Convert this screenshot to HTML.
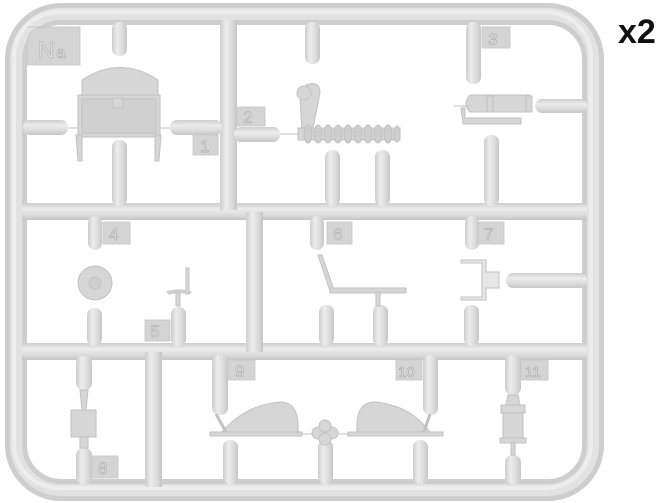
<!DOCTYPE html>
<html><head><meta charset="utf-8"><style>
html,body{margin:0;padding:0;background:#fff;width:672px;height:503px;overflow:hidden}
svg{display:block}
</style></head><body>
<svg width="672" height="503" viewBox="0 0 672 503" xmlns="http://www.w3.org/2000/svg">
<defs>
<linearGradient id="gv" x1="0" x2="1" y1="0" y2="0">
<stop offset="0" stop-color="#cdcdcd"/><stop offset="0.35" stop-color="#ececec"/><stop offset="0.7" stop-color="#dcdcdc"/><stop offset="1" stop-color="#c6c6c6"/></linearGradient>
<linearGradient id="gh" x1="0" x2="0" y1="0" y2="1">
<stop offset="0" stop-color="#cdcdcd"/><stop offset="0.35" stop-color="#ececec"/><stop offset="0.7" stop-color="#dcdcdc"/><stop offset="1" stop-color="#c6c6c6"/></linearGradient>
</defs>
<g fill="none">
<rect x="16" y="14" width="577" height="476" rx="45" ry="45" stroke="#cecece" stroke-width="22"/>
<rect x="16" y="14" width="577" height="476" rx="45" ry="45" stroke="#e2e2e2" stroke-width="12"/>
<rect x="14" y="12" width="577" height="476" rx="45" ry="45" stroke="#ededed" stroke-width="4"/>
</g>
<!-- internal bars -->
<rect x="22" y="203" width="565" height="17" fill="url(#gh)"/>
<rect x="22" y="343" width="565" height="17" fill="url(#gh)"/>
<rect x="220" y="20" width="17" height="190" fill="url(#gv)"/>
<rect x="246" y="212" width="17" height="140" fill="url(#gv)"/>
<rect x="145" y="352" width="17" height="135" fill="url(#gv)"/>

<!-- labels -->
<g fill="#d4d4d4" stroke="#c4c4c4" stroke-width="0.8">
<path d="M27 27 H80 V65 H27 V45 Q27 27 45 27Z"/>
<rect x="193" y="135" width="25" height="20"/>
<rect x="237" y="107" width="28" height="19"/>
<rect x="482" y="27" width="28" height="21"/>
<rect x="103" y="222" width="27" height="22"/>
<rect x="145" y="320" width="25" height="21"/>
<rect x="327" y="222" width="25" height="22"/>
<rect x="477" y="222" width="27" height="22"/>
<rect x="92" y="456" width="26" height="22"/>
<rect x="228" y="360" width="27" height="20"/>
<rect x="396" y="360" width="26" height="20"/>
<rect x="520" y="360" width="28" height="20"/>
</g>
<g font-family="Liberation Sans, sans-serif" fill="#e8e8e8" stroke="#b0b0b0" stroke-width="0.7" font-size="17">
<text x="38" y="58" font-size="23">N</text><text x="56" y="58" font-size="17">a</text>
<text x="200" y="152">1</text>
<text x="243" y="123">2</text>
<text x="488" y="45">3</text>
<text x="109" y="240">4</text>
<text x="150" y="337">5</text>
<text x="333" y="240">6</text>
<text x="484" y="240">7</text>
<text x="98" y="474">8</text>
<text x="235" y="377">9</text>
<text x="398" y="377" font-size="15">10</text>
<text x="525" y="377" font-size="15">11</text>
</g>

<!-- pills / gates -->
<g>
<rect x="112" y="22" width="15" height="34" rx="7" fill="url(#gv)"/>
<rect x="112" y="140" width="15" height="66" rx="7" fill="url(#gv)"/>
<rect x="23" y="120" width="45" height="15" rx="7" fill="url(#gh)"/>
<rect x="170" y="120" width="52" height="15" rx="7" fill="url(#gh)"/>
<rect x="234" y="127" width="46" height="15" rx="7" fill="url(#gh)"/>
<rect x="305" y="22" width="15" height="42" rx="7" fill="url(#gv)"/>
<rect x="325" y="150" width="15" height="56" rx="7" fill="url(#gv)"/>
<rect x="375" y="150" width="15" height="56" rx="7" fill="url(#gv)"/>
<rect x="466" y="22" width="15" height="62" rx="7" fill="url(#gv)"/>
<rect x="484" y="135" width="15" height="71" rx="7" fill="url(#gv)"/>
<rect x="535" y="99" width="52" height="14" rx="7" fill="url(#gh)"/>
<rect x="88" y="216" width="14" height="34" rx="7" fill="url(#gv)"/>
<rect x="87" y="308" width="15" height="38" rx="7" fill="url(#gv)"/>
<rect x="171" y="307" width="15" height="39" rx="7" fill="url(#gv)"/>
<rect x="310" y="216" width="14" height="34" rx="7" fill="url(#gv)"/>
<rect x="319" y="305" width="15" height="41" rx="7" fill="url(#gv)"/>
<rect x="373" y="305" width="15" height="41" rx="7" fill="url(#gv)"/>
<rect x="465" y="216" width="14" height="34" rx="7" fill="url(#gv)"/>
<rect x="464" y="305" width="15" height="41" rx="7" fill="url(#gv)"/>
<rect x="506" y="273" width="81" height="15" rx="7" fill="url(#gh)"/>
<rect x="76" y="356" width="16" height="34" rx="7" fill="url(#gv)"/>
<rect x="76" y="448" width="16" height="36" rx="7" fill="url(#gv)"/>
<rect x="212" y="355" width="16" height="60" rx="7" fill="url(#gv)"/>
<rect x="223" y="440" width="15" height="44" rx="7" fill="url(#gv)"/>
<rect x="318" y="440" width="15" height="44" rx="7" fill="url(#gv)"/>
<rect x="413" y="440" width="15" height="44" rx="7" fill="url(#gv)"/>
<rect x="423" y="355" width="15" height="60" rx="7" fill="url(#gv)"/>
<rect x="505" y="355" width="16" height="40" rx="7" fill="url(#gv)"/>
<rect x="505" y="455" width="16" height="29" rx="7" fill="url(#gv)"/>
</g>

<!-- parts -->
<g fill="#d6d6d6" stroke="#c2c2c2" stroke-width="1">
<!-- part 1 -->
<path d="M82 95 V80 Q120 55 158 80 V95Z"/>
<rect x="78" y="95" width="82" height="42"/>
<rect x="82" y="99" width="74" height="34" fill="#d0d0d0"/>
<rect x="113" y="98" width="10" height="10"/>
<path d="M76 135 h6 v26 h-4z M155 135 h6 l-2 26 h-4z"/>
<line x1="68" y1="128" x2="78" y2="128"/><line x1="160" y1="128" x2="170" y2="128"/>
<!-- part 2 -->
<path d="M300 95 l6 -10 q14 -5 14 8 l-8 40 h-10z"/>
<circle cx="304" cy="93" r="7"/>
<line x1="280" y1="134" x2="300" y2="134"/>
<path d="M298 128 H400 V140 H298Z"/>
<g fill="#cecece">
<ellipse cx="308" cy="134" rx="4" ry="9"/><ellipse cx="318" cy="134" rx="4" ry="9"/><ellipse cx="328" cy="134" rx="4" ry="9"/><ellipse cx="338" cy="134" rx="4" ry="9"/><ellipse cx="348" cy="134" rx="4" ry="9"/><ellipse cx="358" cy="134" rx="4" ry="9"/><ellipse cx="368" cy="134" rx="4" ry="9"/><ellipse cx="378" cy="134" rx="4" ry="9"/><ellipse cx="388" cy="134" rx="4" ry="9"/><ellipse cx="397" cy="134" rx="3" ry="8"/>
</g>
<!-- part 3 -->
<path d="M470 95 h60 v17 h-60 q-8 -8 0 -17z"/>
<rect x="487" y="96" width="6" height="16"/><rect x="526" y="96" width="6" height="16"/>
<path d="M461 108 h4 v10 h56 v6 h-58z"/>
<line x1="454" y1="106" x2="468" y2="106"/>
</g>
<g fill="#d6d6d6" stroke="#c2c2c2" stroke-width="1">
<!-- part 4 -->
<circle cx="95" cy="283" r="17"/><circle cx="95" cy="283" r="6" fill="#cecece"/>
<!-- part 5 -->
<path d="M167 292 q12 -4 24 0 l-2 2 q-10 -3 -20 0z"/>
<rect x="176" y="292" width="4" height="14"/>
<rect x="186" y="268" width="3" height="26"/>
<!-- part 6 -->
<path d="M318 255 l4 0 l12 35 l-4 1z"/>
<rect x="330" y="288" width="76" height="5"/>
<rect x="376" y="292" width="4" height="14"/>
<!-- part 7 -->
<path d="M461 260 h25 v12 h13 v16 h-13 v12 h-25 v-3 h21 v-34 h-21z" fill="#e6e6e6"/>
<!-- part 8 -->
<rect x="71" y="410" width="25" height="27"/>
<path d="M80 390 h8 l-2 20 h-4z M80 437 h8 v11 h-8z"/>
<!-- part 9 -->
<path d="M222 432 Q245 405 280 402 Q300 402 298 432Z"/>
<rect x="210" y="432" width="92" height="4"/>
<path d="M216 414 l10 18" stroke-width="3"/>
<!-- part 10 -->
<path d="M430 432 Q410 405 375 402 Q355 402 357 432Z"/>
<rect x="348" y="432" width="95" height="4"/>
<path d="M430 414 l-6 18" stroke-width="3"/>
<!-- center -->
<line x1="302" y1="434" x2="348" y2="434"/>
<circle cx="318" cy="433" r="6"/><circle cx="332" cy="433" r="6"/><circle cx="325" cy="426" r="6"/><circle cx="325" cy="439" r="6"/>
<!-- part 11 -->
<path d="M508 395 h10 l2 10 h-14z"/>
<rect x="501" y="405" width="24" height="8"/>
<rect x="503" y="413" width="20" height="25"/>
<rect x="500" y="438" width="26" height="5"/>
<rect x="511" y="443" width="4" height="12"/>
</g>
<text x="618" y="43" font-family="Liberation Sans, sans-serif" font-weight="bold" font-size="34" fill="#111">x2</text>
</svg>
</body></html>
